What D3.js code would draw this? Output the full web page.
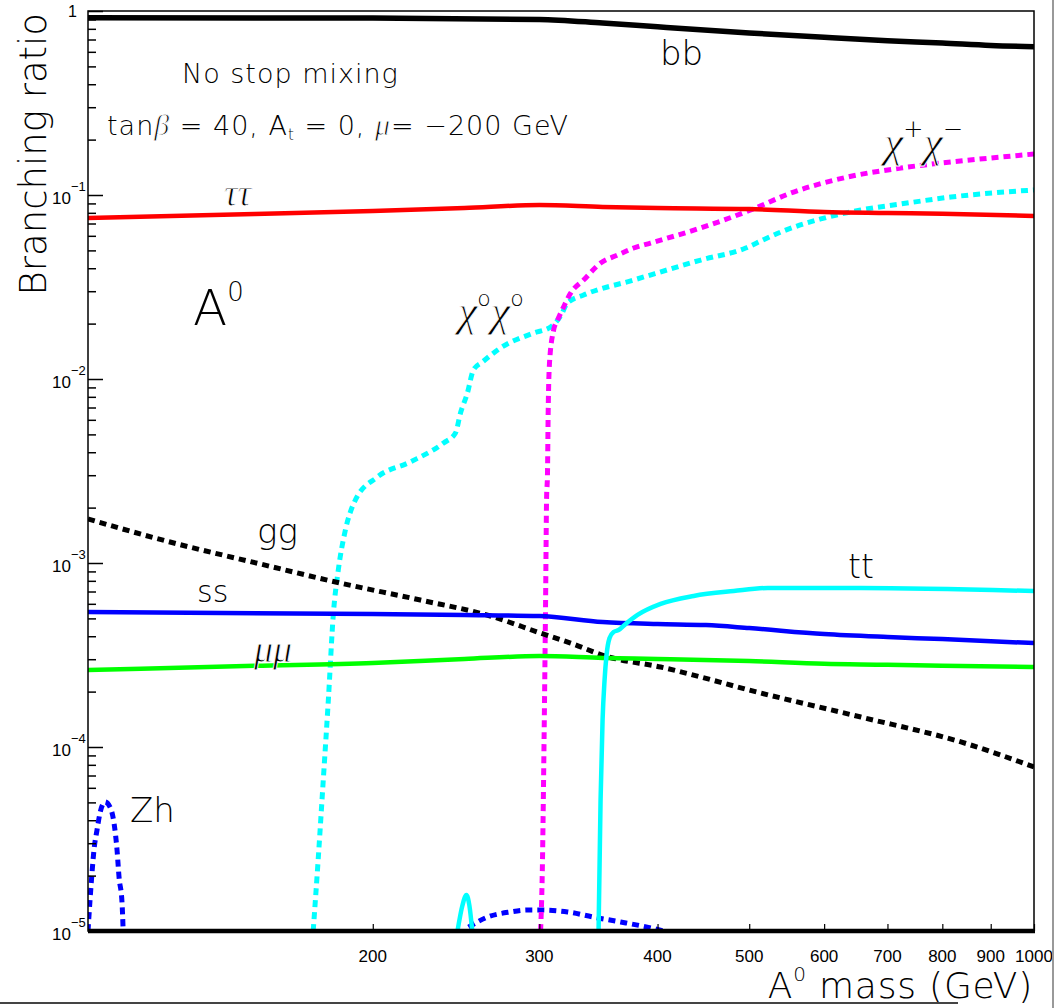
<!DOCTYPE html>
<html><head><meta charset="utf-8">
<script src="https://d3js.org/d3.v7.min.js"></script>
<style>
html,body{margin:0;padding:0;background:#fff;}
svg{display:block;}
</style></head><body>
<svg id="chart" width="1056" height="1008"></svg>
<script>
// ---------------- data ----------------
const xTickValues = [200, 300, 400, 500, 600, 700, 800, 900, 1000];
const yMajorExps = [0, -1, -2, -3, -4, -5];

const bbMass = [100, 200, 300, 350, 400, 500, 600, 700, 800, 900, 1000];
const bbBR   = [0.92, 0.915, 0.90, 0.86, 0.82, 0.76, 0.72, 0.69, 0.67, 0.65, 0.64];

const tauMass = [100, 150, 200, 250, 300, 350, 400, 500, 600, 700, 800, 1000];
const tauBR   = [0.0750, 0.0788, 0.0818, 0.0850, 0.0882, 0.0861, 0.0850, 0.0839, 0.0808, 0.0798, 0.0790, 0.0769];

const ssMass = [100, 200, 250, 300, 350, 400, 450, 500, 600, 700, 800, 1000];
const ssBR   = [5.42e-4, 5.28e-4, 5.22e-4, 5.15e-4, 4.78e-4, 4.66e-4, 4.60e-4, 4.43e-4, 4.11e-4, 3.96e-4, 3.86e-4, 3.67e-4];

const mumuMass = [100, 150, 200, 250, 300, 350, 400, 500, 600, 700, 800, 1000];
const mumuBR   = [2.62e-4, 2.76e-4, 2.86e-4, 3.01e-4, 3.12e-4, 3.05e-4, 3.01e-4, 2.93e-4, 2.83e-4, 2.80e-4, 2.76e-4, 2.72e-4];

const ggMass = [100, 122.1, 152.1, 184.8, 224.6, 266.3, 300.9, 323.7, 352.4, 403.0, 514.2, 656.0, 837.1, 1000];
const ggBR   = [1.734e-3, 1.30e-3, 9.88e-4, 7.78e-4, 6.29e-4, 5.15e-4, 4.16e-4, 3.67e-4, 3.12e-4, 2.72e-4, 1.965e-4, 1.455e-4, 1.065e-4, 7.79e-5];

const ttMass = [346.5, 348.2, 349.9, 351.6, 353.3, 355.9, 359.4, 363.8, 370.1, 381.0, 403.0, 436.8, 481.5, 523.1, 656.0, 1000];
const ttBR   = [1.0e-5, 5.15e-5, 1.40e-4, 2.31e-4, 3.16e-4, 3.91e-4, 4.22e-4, 4.32e-4, 4.66e-4, 5.22e-4, 5.99e-4, 6.62e-4, 7.04e-4, 7.31e-4, 7.31e-4, 7.04e-4];

const spikeMass = [245.8, 248.8, 251.2, 253.0, 254.8];
const spikeBR   = [1.0e-5, 1.38e-5, 1.57e-5, 1.38e-5, 1.0e-5];

const chi0Mass = [173.0, 175.1, 177.3, 179.5, 181.7, 183.9, 187.1, 191.7, 202.2, 219.1, 237.6, 244.6, 247.6, 251.8, 255.5, 261.2, 272.9, 295.8, 308.3, 315.9, 321.3, 334.1, 377.4, 444.3, 495.7, 514.2, 539.9, 595.1, 656.0, 723.4, 817.0, 1000];
const chi0BR   = [1.0e-5, 2.43e-5, 6.62e-5, 1.80e-4, 5.28e-4, 9.16e-4, 1.51e-3, 2.20e-3, 2.93e-3, 3.54e-3, 4.49e-3, 5.09e-3, 6.53e-3, 8.39e-3, 1.119e-2, 1.237e-2, 1.474e-2, 1.778e-2, 1.917e-2, 2.20e-2, 2.59e-2, 2.86e-2, 3.45e-2, 4.43e-2, 5.15e-2, 5.62e-2, 6.29e-2, 7.41e-2, 8.29e-2, 8.94e-2, 9.75e-2, 1.065e-1];

const chipmMass = [300.9, 302.3, 303.1, 303.8, 304.6, 305.3, 306.0, 306.5, 307.5, 310.6, 313.6, 318.2, 323.7, 334.1, 348.2, 363.0, 377.4, 393.2, 444.3, 501.8, 553.4, 635.6, 723.4, 797.3, 900.5, 1000];
const chipmBR   = [1.0e-5, 2.43e-5, 6.62e-5, 1.80e-4, 6.29e-4, 2.20e-3, 3.08e-3, 6.53e-3, 1.222e-2, 1.845e-2, 2.09e-2, 2.46e-2, 2.93e-2, 3.45e-2, 4.27e-2, 4.72e-2, 5.15e-2, 5.48e-2, 6.62e-2, 8.29e-2, 1.025e-1, 1.253e-1, 1.402e-1, 1.492e-1, 1.589e-1, 1.670e-1];

const zhLowMass = [100, 100.49, 100.98, 101.47, 102.22, 102.97, 104.23, 105.50, 106.54, 107.32, 107.84, 108.64, 108.90];
const zhLowBR   = [1.0e-5, 1.47e-5, 2.07e-5, 2.76e-5, 3.54e-5, 4.38e-5, 5.03e-5, 4.72e-5, 3.86e-5, 2.76e-5, 1.97e-5, 1.42e-5, 1.05e-5];

const zhHighMass = [252.5, 264.4, 279.7, 291.5, 300.8, 321.3, 342.2, 365.6, 393.3, 406.0];
const zhHighBR   = [1.05e-5, 1.19e-5, 1.27e-5, 1.30e-5, 1.30e-5, 1.27e-5, 1.19e-5, 1.12e-5, 1.04e-5, 1.0e-5];

// ---------------- layout ----------------
const svg = d3.select('#chart');
const L = 88, R = 1034, T = 11, B = 931;
const x = d3.scaleLog().domain([100, 1000]).range([L, R]);
const y = d3.scaleLog().domain([1e-5, 1]).range([B, T]);

svg.append('defs').append('clipPath').attr('id', 'plotclip')
  .append('rect').attr('x', L).attr('y', T - 6).attr('width', R - L).attr('height', B - T + 6);

const zip = (a, b) => a.map((v, i) => [v, b[i]]);
const line = d3.line().x(d => x(d[0])).y(d => y(d[1])).curve(d3.curveMonotoneX);

const series = [
  {m: zhLowMass,  b: zhLowBR,  c: '#0000ff', dash: true},
  {m: zhHighMass, b: zhHighBR, c: '#0000ff', dash: true},
  {m: spikeMass,  b: spikeBR,  c: '#00ffff', dash: false},
  {m: chi0Mass,   b: chi0BR,   c: '#00ffff', dash: true},
  {m: chipmMass,  b: chipmBR,  c: '#ff00ff', dash: true},
  {m: ggMass,     b: ggBR,     c: '#000000', dash: true},
  {m: mumuMass,   b: mumuBR,   c: '#00ff00', dash: false},
  {m: ssMass,     b: ssBR,     c: '#0000ff', dash: false},
  {m: ttMass,     b: ttBR,     c: '#00ffff', dash: false},
  {m: tauMass,    b: tauBR,    c: '#ff0000', dash: false},
  {m: bbMass,     b: bbBR,     c: '#000000', dash: false, w: 5.5}
];

const g = svg.append('g').attr('clip-path', 'url(#plotclip)');
series.forEach(s => {
  g.append('path').attr('d', line(zip(s.m, s.b)))
    .attr('fill', 'none').attr('stroke', s.c)
    .attr('stroke-width', s.dash ? 5 : (s.w || 4.5))
    .attr('stroke-dasharray', s.dash ? '7,5' : null)
    .attr('stroke-linejoin', 'round');
});

// frame
svg.append('rect').attr('x', L).attr('y', T).attr('width', R - L).attr('height', B - T)
  .attr('fill', 'none').attr('stroke', '#000').attr('stroke-width', 1.5);
svg.append('line').attr('x1', L).attr('x2', R + 1).attr('y1', B).attr('y2', B)
  .attr('stroke', '#000').attr('stroke-width', 4.5);

// y ticks
const yMinor = [];
for (let k = -5; k < 0; k++) for (let j = 2; j <= 9; j++) yMinor.push(j * Math.pow(10, k));
const yMajor = yMajorExps.map(e => Math.pow(10, e));
const yAxMinor = svg.append('g').attr('transform', `translate(${L},0)`)
  .call(d3.axisRight(y).tickValues(yMinor).tickSize(8).tickFormat(''));
const yAxMajor = svg.append('g').attr('transform', `translate(${L},0)`)
  .call(d3.axisRight(y).tickValues(yMajor).tickSize(15).tickFormat(''));
[yAxMinor, yAxMajor].forEach(a => { a.select('.domain').remove(); a.selectAll('line').attr('stroke', '#000').attr('stroke-width', 1.5); });

// x ticks
const xAx = svg.append('g').attr('transform', `translate(0,${B})`)
  .call(d3.axisTop(x).tickValues(xTickValues).tickSize(7).tickFormat(''));
xAx.select('.domain').remove();
xAx.selectAll('line').attr('stroke', '#000').attr('stroke-width', 1.2);

const tickFont = '"Liberation Sans", Arial, sans-serif';
svg.append('g').selectAll('text').data(xTickValues).join('text')
  .attr('x', d => x(d)).attr('y', 962).attr('text-anchor', 'middle')
  .attr('font-family', tickFont).attr('font-size', 17).text(d => d);

// y labels
yMajorExps.forEach(e => {
  const yy = y(Math.pow(10, e));
  if (e === 0) {
    svg.append('text').attr('x', 77).attr('y', yy + 6).attr('text-anchor', 'end')
      .attr('font-family', tickFont).attr('font-size', 16).text('1');
  } else {
    svg.append('text').attr('x', 71).attr('y', yy + 9).attr('text-anchor', 'end')
      .attr('font-family', tickFont).attr('font-size', 17).text('10');
    svg.append('text').attr('x', 71).attr('y', yy - 4).attr('text-anchor', 'start')
      .attr('font-family', tickFont).attr('font-size', 13).text('\u2212' + (-e));
  }
});

const F = '"DejaVu Sans", sans-serif';
const GREEK = '"Liberation Serif", "DejaVu Serif", serif';
function label(xp, yp, size, parts, opts = {}) {
  const t = svg.append('text').attr('x', xp).attr('y', yp).attr('font-family', F)
    .attr('font-size', size).attr('font-weight', 300).attr('fill', '#000');
  if (opts.anchor) t.attr('text-anchor', opts.anchor);
  if (opts.ls) t.attr('letter-spacing', opts.ls);
  if (opts.rotate) t.attr('transform', `rotate(-90,${xp},${yp})`);
  parts.forEach(p => {
    const s = t.append('tspan').text(p.t);
    if (p.size) s.attr('font-size', p.size);
    if (p.dy) s.attr('dy', p.dy);
    if (p.gr) s.attr('font-family', GREEK).attr('font-style', 'italic').attr('font-weight', 400)
      .attr('stroke', '#fff').attr('stroke-width', 0.9);
  });
  return t;
}

// axis titles
label(46, 13, 37, [{t: 'Branching ratio'}], {anchor: 'end', rotate: true});
label(1033, 998, 36, [{t: 'A'}, {t: '0', size: 20, dy: -17}, {t: ' mass (GeV)', dy: 17}], {anchor: 'end', ls: 0.8});

// annotations
label(182, 83, 27, [{t: 'No stop mixing'}], {ls: 1});
label(107, 135, 27, [{t: 'tan'}, {t: '\u03b2', gr: true, size: 30}, {t: ' = 40, A'}, {t: 't', size: 15, dy: 5}, {t: ' = 0, ', dy: -5}, {t: '\u03bc', gr: true, size: 30}, {t: '= \u2212200 GeV'}], {ls: 1});
label(193, 325, 50, [{t: 'A'}, {t: '0', size: 26, dy: -24}]);
label(660, 65, 34, [{t: 'bb'}]);
label(224, 206, 38, [{t: '\u03c4\u03c4', gr: true}]);
label(458, 326, 44, [{t: '\u03c7', gr: true}, {t: 'o', size: 22, dy: -20}, {t: '\u03c7', gr: true, dy: 20}, {t: 'o', size: 22, dy: -20}]);
label(884, 157, 44, [{t: '\u03c7', gr: true}, {t: '+', size: 24, dy: -20}, {t: '\u03c7', gr: true, dy: 20}, {t: '\u2212', size: 24, dy: -20}]);
label(257, 543, 34, [{t: 'gg'}]);
label(197, 602, 30, [{t: 'ss'}]);
label(254, 662, 38, [{t: '\u03bc\u03bc', gr: true}]);
label(848, 578, 33, [{t: 'tt'}]);
label(130, 822, 34, [{t: 'Zh'}]);

// page border artifacts
svg.append('line').attr('x1', 0).attr('x2', 958).attr('y1', 1003).attr('y2', 1003)
  .attr('stroke', '#444').attr('stroke-width', 2);
svg.append('line').attr('x1', 1053).attr('x2', 1053).attr('y1', 0).attr('y2', 1008)
  .attr('stroke', '#999').attr('stroke-width', 2);
</script>
</body></html>
